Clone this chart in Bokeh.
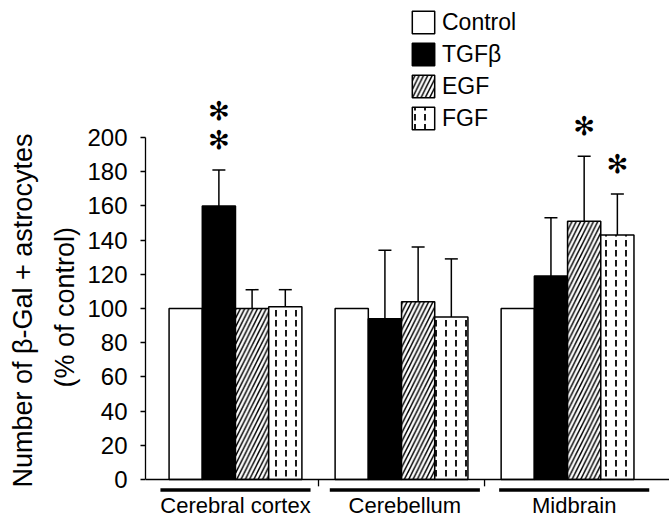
from bokeh.plotting import figure
from bokeh.models import (ColumnDataSource, FixedTicker, Legend, LegendItem,
                          Whisker, TeeHead, Span, Range1d, Title)
from bokeh.core.properties import value
from bokeh.embed import file_html
from bokeh.resources import INLINE

# ---------------- data ----------------
regions = ["Cerebral cortex", "Cerebellum", "Midbrain"]
treatments = ["Control", "TGFβ", "EGF", "FGF"]

control = [100, 100, 100]
tgfb = [160, 94, 119]
egf = [100, 104, 151]
fgf = [101, 95, 143]

control_err = [0, 0, 0]
tgfb_err = [21, 40, 34]
egf_err = [11, 32, 38]
fgf_err = [10, 34, 24]

control_stars = [0, 0, 0]
tgfb_stars = [2, 0, 0]
egf_stars = [0, 0, 1]
fgf_stars = [0, 0, 1]

y_ticks = [0, 20, 40, 60, 80, 100, 120, 140, 160, 180, 200]
y_title = "Number of β-Gal + astrocytes"
y_subtitle = "(% of control)"

# ---------------- layout / style ----------------
BAR_W = 0.2
LABEL_SPREAD = 1.02
FONT = "Liberation Sans"

series = [
    ("Control", control, control_err, control_stars, dict(fill_color="white")),
    ("TGFβ", tgfb, tgfb_err, tgfb_stars, dict(fill_color="black")),
    ("EGF", egf, egf_err, egf_stars, dict(fill_color="white", hatch_pattern="/",
                                          hatch_color="black", hatch_scale=8.6, hatch_weight=1.5)),
    ("FGF", fgf, fgf_err, fgf_stars, dict(fill_color="white", hatch_pattern=":",
                                          hatch_color="black", hatch_scale=10, hatch_weight=1.8)),
]

p = figure(width=669, height=519, output_backend="svg", toolbar_location=None,
           x_range=Range1d(-0.542, 2.614), y_range=Range1d(-23.39, 280.1),
           x_axis_location=None, min_border_left=145, min_border_right=0,
           min_border_top=0, min_border_bottom=0)
p.xgrid.grid_line_color = None
p.ygrid.grid_line_color = None
p.outline_line_color = None
p.background_fill_color = "white"

items = []
wx, wlo, whi = [], [], []
sx, sy, soff = [], [], []
for j, (name, vals, errs, stars, style) in enumerate(series):
    xs = [i + (j - 1.5) * BAR_W for i in range(len(regions))]
    r = p.vbar(x=xs, top=vals, bottom=0, width=BAR_W, line_color="black",
               line_width=1.5, **style)
    items.append(LegendItem(label=name, renderers=[r]))
    for x, v, e, n in zip(xs, vals, errs, stars):
        if e > 0:
            wx.append(x); wlo.append(v); whi.append(v + e)
        for k in range(n):
            sx.append(x); sy.append(v + e); soff.append(-(30 + 29 * k))

wsrc = ColumnDataSource(dict(x=wx, lower=wlo, upper=whi))
p.add_layout(Whisker(base="x", lower="lower", upper="upper", source=wsrc,
                     dimension="height", line_width=1.5, line_color="black",
                     lower_head=None,
                     upper_head=TeeHead(size=13, line_width=1.5, line_color="black")))

ssrc = ColumnDataSource(dict(x=sx, y=sy, off=soff, t=["✻"] * len(sx)))
p.text(x="x", y="y", text="t", y_offset="off", source=ssrc, text_align="center",
       text_baseline="middle", text_font=value("DejaVu Sans"), text_font_size="26px",
       text_color="black")

# x axis line, group separators, group underlines and names
p.add_layout(Span(location=0, dimension="width", line_color="black", line_width=1.3))
seps = [i + 0.5 for i in range(len(regions) - 1)]
p.segment(x0=seps, y0=[0] * len(seps), x1=seps, y1=[-4] * len(seps),
          line_color="black", line_width=1.3)
centers = [i * LABEL_SPREAD for i in range(len(regions))]
p.segment(x0=[c - 0.452 for c in centers], y0=[-6.14] * 3,
          x1=[c + 0.452 for c in centers], y1=[-6.14] * 3,
          line_color="black", line_width=3.5, line_cap="butt")
p.text(x=centers, y=[-15.2] * 3, text=regions, text_align="center",
       text_baseline="middle", text_font=value(FONT), text_font_size="22px",
       text_color="black")

# y axis
ya = p.yaxis[0]
ya.ticker = FixedTicker(ticks=y_ticks)
ya.bounds = (0, 200)
ya.axis_line_width = 1.3
ya.axis_line_color = "black"
ya.major_tick_line_color = "black"
ya.major_tick_line_width = 1.3
ya.major_tick_out = 5
ya.major_tick_in = 0
ya.minor_tick_line_color = None
ya.major_label_standoff = 13
ya.major_label_text_font = FONT
ya.major_label_text_font_size = "24px"
ya.major_label_text_color = "black"

# y titles (two lines) as side titles; offset = distance of text start above frame bottom
for txt, off in [(y_subtitle, 132), (y_title, 32)]:
    p.add_layout(Title(text=txt, align="left", offset=off, standoff=10,
                       text_font=FONT, text_font_size="27px",
                       text_font_style="normal", text_color="black"), "left")

legend = Legend(items=items, location=(264, 387), glyph_width=28, glyph_height=28,
                label_height=28, spacing=4, padding=0, margin=0, label_standoff=5,
                label_text_font=FONT, label_text_font_size="23px",
                label_text_color="black", border_line_color=None,
                background_fill_alpha=0)
p.add_layout(legend)

open("out.html", "w").write(file_html(p, INLINE))
